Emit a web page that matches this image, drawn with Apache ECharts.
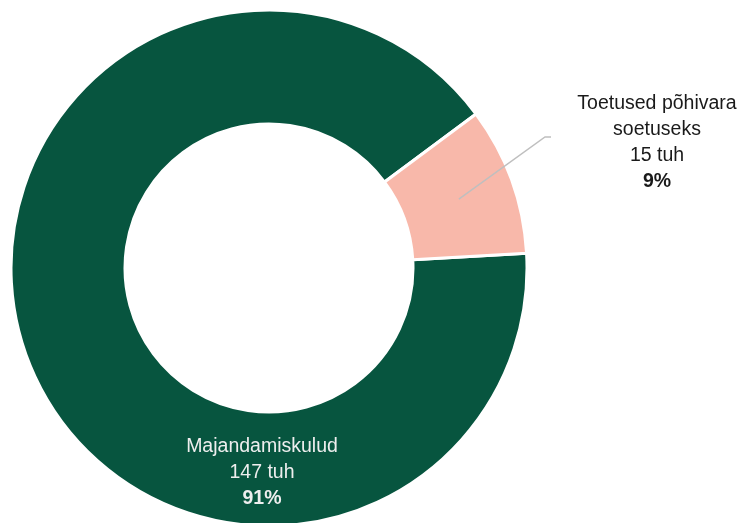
<!DOCTYPE html>
<html><head><meta charset="utf-8">
<script src="https://cdn.jsdelivr.net/npm/echarts@6/dist/echarts.min.js"></script>
<style>html,body{margin:0;padding:0;background:#fff}#c{width:741px;height:523px}</style>
</head><body><div id="c"></div>
<script>
const categories = ['Majandamiskulud', 'Toetused põhivara\nsoetuseks'];
const values = [147, 15];
const unit = 'tuh';
const colors = ['#07553F', '#F8B8AA'];

const CX = 269, CY = 268, R_IN = 144, R_OUT = 258, START = 3.3;
const total = values.reduce((a, b) => a + b, 0);
const FS = 19.5;

const base = {
  type: 'pie',
  center: [CX, CY],
  radius: [R_IN, R_OUT],
  startAngle: START,
  clockwise: true,
  avoidLabelOverlap: false
};

const chart = echarts.init(document.getElementById('c'));
chart.setOption({
  animation: false,
  backgroundColor: '#ffffff',
  textStyle: { fontFamily: 'Liberation Sans, Arial, sans-serif' },
  series: [
    Object.assign({}, base, {
      z: 2,
      silent: true,
      itemStyle: { borderColor: '#ffffff', borderWidth: 3 },
      label: { show: false },
      labelLine: { show: false },
      data: categories.map((c, i) => ({ name: c, value: values[i], itemStyle: { color: colors[i] } }))
    }),
    Object.assign({}, base, {
      z: 5,
      silent: true,
      itemStyle: { color: 'rgba(0,0,0,0)', borderWidth: 0 },
      data: categories.map((c, i) => ({
        name: c, value: values[i],
        label: i === 0
          ? { position: 'inside', color: '#EEEEEE' }
          : { position: 'outside', color: '#1a1a1a' },
        labelLine: { show: i !== 0 }
      })),
      label: {
        show: true,
        fontSize: FS,
        lineHeight: 26,
        align: 'center',
        formatter: p => p.name.split('\n').map(s => '{a|' + s + '}').join('\n') +
          '\n{a|' + p.value + ' ' + unit + '}\n{b|' + Math.round(p.percent) + '%}',
        rich: {
          a: { fontSize: FS, lineHeight: 26, align: 'center' },
          b: { fontSize: FS, lineHeight: 26, fontWeight: 'bold', align: 'center' }
        }
      },
      labelLine: { lineStyle: { color: '#BFBFBF', width: 1.5 } },
      labelLayout: function (params) {
        if (params.dataIndex === 0) {
          return { x: 262, y: 473, align: 'center', verticalAlign: 'middle' };
        }
        const before = values.slice(0, params.dataIndex + 1).reduce((a, b) => a + b, 0);
        const mid = START - 360 * (before - values[params.dataIndex] / 2) / total;
        const a = mid * Math.PI / 180;
        const rm = (R_IN + R_OUT) / 2 + 1;
        const p0 = [CX + rm * Math.cos(a), CY - rm * Math.sin(a)];
        return {
          x: 657, y: 142.5, align: 'center', verticalAlign: 'middle',
          labelLinePoints: [p0, [545, 137], [551, 137]]
        };
      }
    })
  ]
});
</script></body></html>
